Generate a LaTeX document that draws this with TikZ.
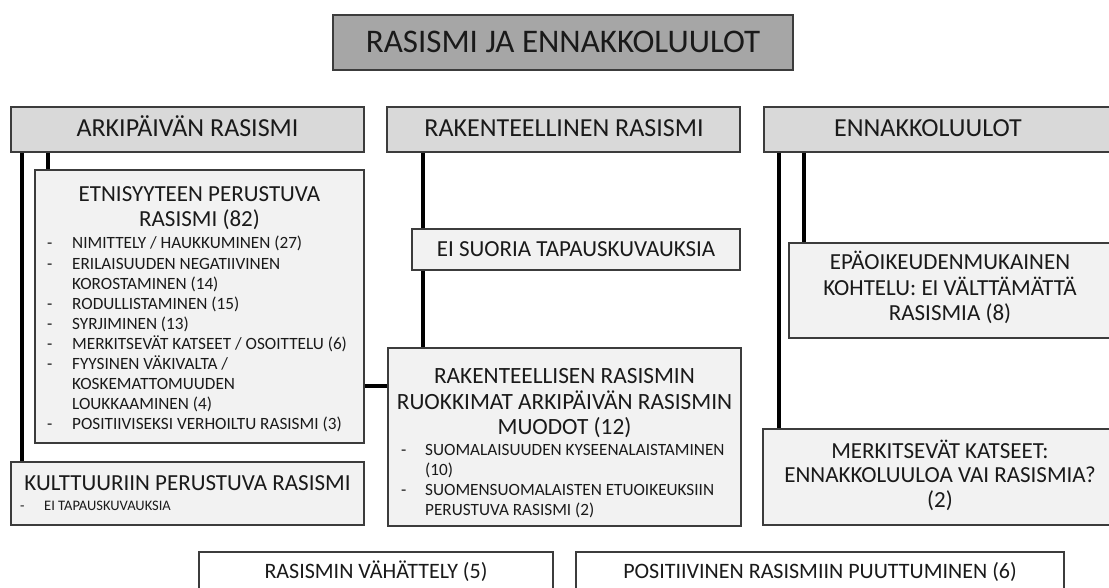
\documentclass[tikz,border=0pt]{standalone}
\usepackage{fontspec}
\setmainfont{Carlito}
\usepackage{array}
\definecolor{ink}{HTML}{1A1A1A}
\definecolor{edge}{HTML}{3C3C3C}
\definecolor{topfill}{HTML}{A6A6A6}
\definecolor{headfill}{HTML}{D9D9D9}
\definecolor{subfill}{HTML}{F2F2F2}
\newcommand\ftitle{\fontsize{33}{38}\selectfont}
\newcommand\fhead{\fontsize{26}{30}\selectfont}
\newcommand\fsub{\fontsize{23}{24.8}\selectfont}
\newcommand\fsubl{\fontsize{23.3}{25.5}\selectfont}
\newcommand\fbottom{\fontsize{22}{25}\selectfont}
\newcommand\fitem{\fontsize{17.2}{20.1}\selectfont}
\newcommand\fsmall{\fontsize{14.5}{17}\selectfont}
\tikzset{
  box/.style={draw=edge, line width=1.2pt, rectangle, inner sep=0pt},
  topbox/.style={box, fill=topfill},
  headbox/.style={box, fill=headfill},
  subbox/.style={box, fill=subfill},
  plainbox/.style={box, fill=white},
  txt/.style={inner sep=0pt, anchor=base, text=ink},
  lst/.style={inner sep=0pt, anchor=base west, text=ink},
  conn/.style={draw=black, line width=3.4pt}
}
\begin{document}
\begin{tikzpicture}[x=1pt, y=-1pt]
\clip (0,0) rectangle (1109,588);
\fill[white] (0,0) rectangle (1109,588);

% boxes
\node[topbox,  minimum width=460pt, minimum height=55pt]  (top)  at (563,42.5) {};
\node[headbox, minimum width=353pt, minimum height=45pt]  (arki) at (187.5,129.5) {};
\node[headbox, minimum width=353pt, minimum height=45pt]  (rak)  at (563.5,129.5) {};
\node[headbox, minimum width=353pt, minimum height=45pt]  (enn)  at (940.5,129.5) {};
\node[subbox,  minimum width=329pt, minimum height=273pt] (etn)  at (199.5,306.5) {};
\node[subbox,  minimum width=353pt, minimum height=63pt]  (kult) at (187.5,493.5) {};
\node[subbox,  minimum width=328pt, minimum height=41pt]  (eis)  at (576,249.5) {};
\node[subbox,  minimum width=353pt, minimum height=178pt] (rakr) at (564.5,437) {};
\node[subbox,  minimum width=328pt, minimum height=95pt]  (epa)  at (953,290.5) {};
\node[subbox,  minimum width=354pt, minimum height=96pt]  (merk) at (940,477) {};
\node[plainbox,minimum width=354pt, minimum height=58pt]  (vah)  at (376,581) {};
\node[plainbox,minimum width=488pt, minimum height=58pt]  (pos)  at (820,581) {};

% connectors
\coordinate (xa1) at (22,0);
\coordinate (xa2) at (48,0);
\coordinate (xr)  at (423,0);
\coordinate (xe1) at (779,0);
\coordinate (xe2) at (804,0);
\coordinate (ym)  at (0,386);
\draw[conn] (arki.south -| xa1) -- (kult.north -| xa1);
\draw[conn] (arki.south -| xa2) -- (etn.north -| xa2);
\draw[conn] (etn.east |- ym) -- (rakr.west |- ym);
\draw[conn] (rak.south -| xr) -- (eis.north -| xr);
\draw[conn] (eis.south -| xr) -- (rakr.north -| xr);
\draw[conn] (enn.south -| xe1) -- (merk.north -| xe1);
\draw[conn] (enn.south -| xe2) -- (epa.north -| xe2);

% texts
\node[txt, font=\ftitle] (top-t) at (563,53) {RASISMI JA ENNAKKOLUULOT};
\node[txt, font=\fhead] (arki-t) at (187.5,137) {ARKIPÄIVÄN RASISMI};
\node[txt, font=\fhead] (rak-t) at (564,137) {RAKENTEELLINEN RASISMI};
\node[txt, font=\fhead] (enn-t) at (928,137) {ENNAKKOLUULOT};

\node[txt, font=\fsub] (etn-t) at (199.5,202)
  {\begin{tabular}[t]{@{}c@{}}ETNISYYTEEN PERUSTUVA\\RASISMI (82)\end{tabular}};
\node[lst, font=\fitem] (etn-l) at (47,249)
  {\begin{tabular}[t]{@{}p{25pt}@{}l@{}}
  -&NIMITTELY / HAUKKUMINEN (27)\\
  -&ERILAISUUDEN NEGATIIVINEN\\
   &KOROSTAMINEN (14)\\
  -&RODULLISTAMINEN (15)\\
  -&SYRJIMINEN (13)\\
  -&MERKITSEVÄT KATSEET / OSOITTELU (6)\\
  -&FYYSINEN VÄKIVALTA /\\
   &KOSKEMATTOMUUDEN\\
   &LOUKKAAMINEN (4)\\
  -&POSITIIVISEKSI VERHOILTU RASISMI (3)
  \end{tabular}};

\node[txt, font=\fsub] (kult-t) at (187.5,490) {KULTTUURIIN PERUSTUVA RASISMI};
\node[lst, font=\fsmall] (kult-l) at (20,510)
  {\begin{tabular}[t]{@{}p{24pt}@{}l@{}}-&EI TAPAUSKUVAUKSIA\end{tabular}};

\node[txt, font=\fsub] (eis-t) at (576,257) {EI SUORIA TAPAUSKUVAUKSIA};

\node[txt, font=\fsubl] (rakr-t) at (564.5,383)
  {\begin{tabular}[t]{@{}c@{}}RAKENTEELLISEN RASISMIN\\RUOKKIMAT ARKIPÄIVÄN RASISMIN\\MUODOT (12)\end{tabular}};
\node[lst, font=\fitem] (rakr-l) at (401,455)
  {\begin{tabular}[t]{@{}p{24pt}@{}l@{}}
  -&SUOMALAISUUDEN KYSEENALAISTAMINEN\\
   &(10)\\
  -&SUOMENSUOMALAISTEN ETUOIKEUKSIIN\\
   &PERUSTUVA RASISMI (2)
  \end{tabular}};

\node[txt, font=\fsub] (epa-t) at (950,270)
  {\begin{tabular}[t]{@{}c@{}}EPÄOIKEUDENMUKAINEN\\KOHTELU: EI VÄLTTÄMÄTTÄ\\RASISMIA (8)\end{tabular}};
\node[txt, font=\fsub] (merk-t) at (940,458)
  {\begin{tabular}[t]{@{}c@{}}MERKITSEVÄT KATSEET:\\ENNAKKOLUULOA VAI RASISMIA?\\(2)\end{tabular}};

\node[txt, font=\fbottom] (vah-t) at (376,578) {RASISMIN VÄHÄTTELY (5)};
\node[txt, font=\fbottom] (pos-t) at (820,578) {POSITIIVINEN RASISMIIN PUUTTUMINEN (6)};
\end{tikzpicture}
\end{document}
